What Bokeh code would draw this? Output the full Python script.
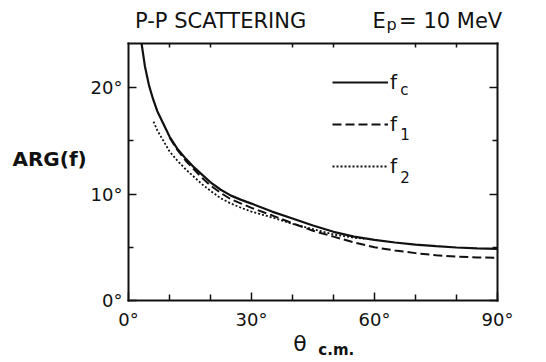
from bokeh.plotting import figure
from bokeh.models import Range1d, LinearAxis, FixedTicker, Label, Legend, LegendItem
from bokeh.embed import file_html
from bokeh.resources import INLINE

# ---- data ----
theta_c = [3.2, 4, 5, 6, 7, 8.5, 10, 12, 14, 16, 18, 20, 22.5, 25, 27.5, 30,
           35, 40, 45, 50, 55, 60, 65, 70, 75, 80, 85, 90]
arg_c = [24.1, 22.0, 20.2, 18.9, 17.8, 16.6, 15.4, 14.2, 13.3, 12.5, 11.8, 11.1,
         10.4, 9.85, 9.45, 9.1, 8.35, 7.7, 7.05, 6.45, 6.0, 5.7, 5.45, 5.25,
         5.1, 4.98, 4.9, 4.85]

theta_1 = [10, 12, 14, 16, 18, 20, 22.5, 25, 27.5, 30, 35, 40, 45, 50, 55, 60,
           65, 70, 75, 80, 85, 90]
arg_1 = [15.3, 14.1, 13.1, 12.3, 11.5, 10.8, 10.1, 9.5, 9.1, 8.7, 8.0, 7.25,
         6.55, 6.0, 5.45, 5.0, 4.7, 4.45, 4.25, 4.12, 4.05, 4.0]

theta_2 = [6.1, 7, 8.5, 10, 12, 14, 16, 18, 20, 22.5, 25, 27.5, 30, 35, 40, 45,
           50, 55, 57.5]
arg_2 = [16.8, 16.0, 15.0, 14.0, 13.1, 12.3, 11.6, 10.9, 10.3, 9.6, 9.1, 8.7,
         8.35, 7.8, 7.2, 6.7, 6.2, 5.9, 5.8]

x_major = [0, 30, 60, 90]
x_minor = [10, 20, 40, 50, 70, 80]
y_major = [0, 10, 20]
y_minor = [5, 15]
x_labels = {0: "0°", 30: "30°", 60: "60°", 90: "90°"}
y_labels = {0: "0°", 10: "10°", 20: "20°"}
legend_labels = ["f", "f", "f"]
legend_subs = ["c", "1", "2"]

# ---- layout (box = 0..90 x 0..Y_TOP, drawn by fixed-location axes) ----
X_MIN, X_MAX, Y_TOP = 0, 90, 24.13
X_LO, X_HI = -31.22, 101.95
Y_LO, Y_HI = -5.82, 28.17

FONT = "DejaVu Sans"
INK = "#111111"

p = figure(width=546, height=362, output_backend="svg", toolbar_location=None,
           x_range=Range1d(X_LO, X_HI), y_range=Range1d(Y_LO, Y_HI),
           min_border=0, x_axis_location=None, y_axis_location=None)
p.xgrid.visible = False
p.ygrid.visible = False
p.outline_line_color = None
p.background_fill_color = "white"
p.border_fill_color = "white"

common = dict(axis_line_color=INK, axis_line_width=2, axis_line_cap="square",
              major_tick_out=0, minor_tick_out=0,
              major_tick_line_color=INK, minor_tick_line_color=INK,
              major_tick_line_width=1.5, minor_tick_line_width=1.5)

xa = LinearAxis(fixed_location=0, bounds=(X_MIN, X_MAX),
                ticker=FixedTicker(ticks=x_major, minor_ticks=x_minor),
                major_label_overrides=x_labels, major_tick_in=8, minor_tick_in=6,
                major_label_text_font=FONT, major_label_text_font_size="18px",
                major_label_text_color=INK, major_label_standoff=8, **common)
p.add_layout(xa, "below")

ya = LinearAxis(fixed_location=X_MIN, bounds=(0, Y_TOP),
                ticker=FixedTicker(ticks=y_major, minor_ticks=y_minor),
                major_label_overrides=y_labels, major_tick_in=8, minor_tick_in=5,
                major_label_text_font=FONT, major_label_text_font_size="18px",
                major_label_text_color=INK, major_label_standoff=6, **common)
p.add_layout(ya, "left")

ta = LinearAxis(fixed_location=Y_TOP, bounds=(X_MIN, X_MAX),
                ticker=FixedTicker(ticks=x_minor, minor_ticks=[]),
                major_tick_in=4, major_label_text_color=None, **common)
p.add_layout(ta, "above")

ra = LinearAxis(fixed_location=X_MAX, bounds=(0, Y_TOP),
                ticker=FixedTicker(ticks=y_major, minor_ticks=y_minor),
                major_tick_in=8, minor_tick_in=5, major_label_text_color=None,
                **common)
p.add_layout(ra, "right")

# curves
r_c = p.line(theta_c, arg_c, line_color=INK, line_width=2.2)
r_1 = p.line(theta_1, arg_1, line_color=INK, line_width=2.0, line_dash="9 4")
r_2 = p.line(theta_2, arg_2, line_color=INK, line_width=1.8, line_dash="2 2")

legend = Legend(items=[LegendItem(label=legend_labels[0], renderers=[r_c]),
                       LegendItem(label=legend_labels[1], renderers=[r_1]),
                       LegendItem(label=legend_labels[2], renderers=[r_2])],
                location=(332, 184), glyph_width=56, glyph_height=24,
                label_height=24, label_standoff=2, spacing=18, padding=0,
                margin=0, border_line_color=None, background_fill_alpha=0,
                label_text_font=FONT, label_text_font_size="20px",
                label_text_color=INK)
p.add_layout(legend, "center")


def lab(x, y, text, size, style="normal"):
    p.add_layout(Label(x=x, y=y, text=text, text_font=FONT,
                       text_font_size=size, text_font_style=style,
                       text_color=INK, text_baseline="alphabetic"))


# titles / annotations (data units used only as text anchors)
lab(1.6, 26.29, "P-P SCATTERING", "21px")
lab(59.5, 26.29, "E", "21px")
lab(62.9, 25.96, "p", "16px")
lab(66.0, 26.29, "= 10 MeV", "21px")
lab(-28.3, 13.28, "ARG(f)", "20px", "bold")
lab(40.2, -4.03, "θ", "22px")
lab(46.3, -4.6, "c.m.", "15px", "bold")
# legend subscripts
lab(66.3, 19.79, legend_subs[0], "15px")
lab(66.3, 15.65, legend_subs[1], "15px")
lab(66.3, 11.62, legend_subs[2], "15px")

open("out.html", "w").write(file_html(p, INLINE))
